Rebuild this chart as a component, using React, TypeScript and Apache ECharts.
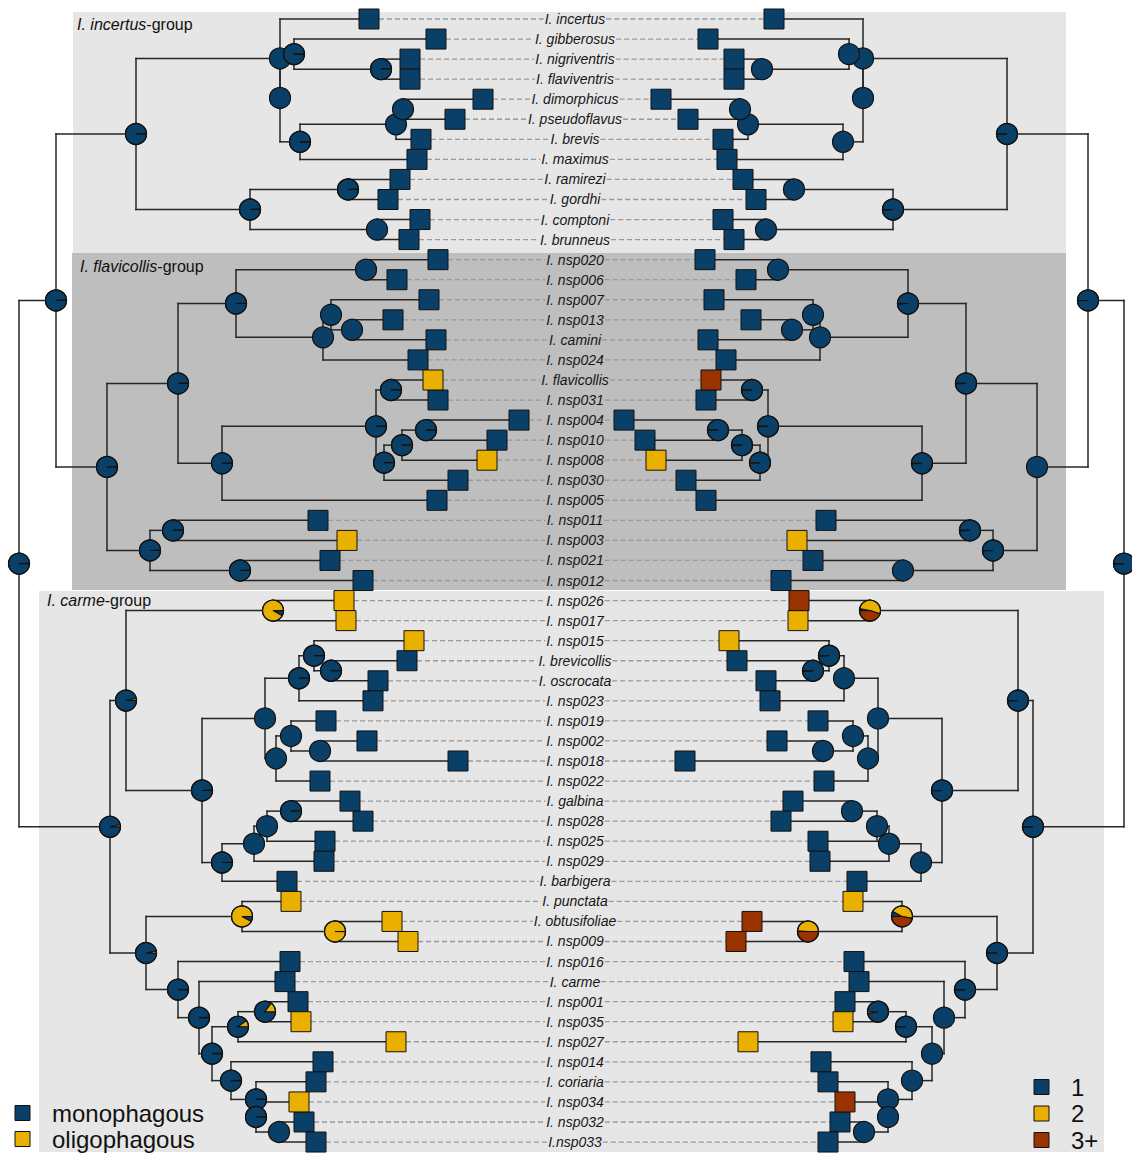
import React, { useEffect, useRef } from "react";
import * as echarts from "echarts";

// ---------- DATA ----------
const TAXA = [
  "I. incertus", "I. gibberosus", "I. nigriventris", "I. flaviventris", "I. dimorphicus", "I. pseudoflavus",
  "I. brevis", "I. maximus", "I. ramirezi", "I. gordhi", "I. comptoni", "I. brunneus",
  "I. nsp020", "I. nsp006", "I. nsp007", "I. nsp013", "I. camini", "I. nsp024", "I. flavicollis", "I. nsp031",
  "I. nsp004", "I. nsp010", "I. nsp008", "I. nsp030", "I. nsp005", "I. nsp011", "I. nsp003", "I. nsp021", "I. nsp012",
  "I. nsp026", "I. nsp017", "I. nsp015", "I. brevicollis", "I. oscrocata", "I. nsp023", "I. nsp019", "I. nsp002",
  "I. nsp018", "I. nsp022", "I. galbina", "I. nsp028", "I. nsp025", "I. nsp029", "I. barbigera", "I. punctata",
  "I. obtusifoliae", "I. nsp009", "I. nsp016", "I. carme", "I. nsp001", "I. nsp035", "I. nsp027", "I. nsp014",
  "I. coriaria", "I. nsp034", "I. nsp032", "I.nsp033",
];

// tip depth on the shared branch-length axis (left tree / right tree)
const LEFT_TIP_X = [
  369, 436, 410, 410, 483, 455, 421, 417, 400, 388, 420, 409, 438, 397, 429, 393, 436, 418, 433, 438,
  519, 497, 487, 458, 437, 318, 347, 330, 363, 344, 346, 414, 407, 378, 373, 326, 367, 458, 320, 350,
  363, 325, 324, 287, 291, 392, 408, 290, 285, 298, 301, 396, 323, 316, 299, 304, 316,
];
const RIGHT_TIP_X = [
  774, 708, 734, 734, 661, 688, 723, 727, 743, 756, 723, 734, 705, 746, 714, 751, 708, 726, 711, 706,
  624, 645, 656, 686, 706, 826, 797, 813, 781, 799, 798, 729, 737, 766, 770, 818, 777, 685, 824, 793,
  781, 818, 820, 857, 853, 752, 736, 854, 859, 845, 843, 748, 821, 828, 845, 840, 828,
];

// diet breadth (1 = monophagous, 2 = oligophagous)
const DIET = [
  1, 1, 1, 1, 1, 1, 1, 1, 1, 1, 1, 1, 1, 1, 1, 1, 1, 1, 2, 1,
  1, 1, 2, 1, 1, 1, 2, 1, 1, 2, 2, 2, 1, 1, 1, 1, 1, 1, 1, 1,
  1, 1, 1, 1, 2, 2, 2, 1, 1, 1, 2, 2, 1, 1, 2, 1, 1,
];
// number of hosts (1, 2, 3 = 3+)
const HOSTS = [
  1, 1, 1, 1, 1, 1, 1, 1, 1, 1, 1, 1, 1, 1, 1, 1, 1, 1, 3, 1,
  1, 1, 2, 1, 1, 1, 2, 1, 1, 3, 2, 2, 1, 1, 1, 1, 1, 1, 1, 1,
  1, 1, 1, 1, 2, 3, 3, 1, 1, 1, 2, 2, 1, 1, 3, 1, 1,
];

type Kid = number | string;
type NodeRow = [string, number, Kid, Kid, number[]];
const PLAIN = [1, 0, 0];
const TICK = [0.995, 0.005, 0];

// internal nodes: id, depth, child A, child B, ancestral state probabilities [1, 2, 3+]
const LEFT_NODES: NodeRow[] = [
  ["L0", 19, "B1", "CG", TICK],
  ["B1", 56, "A", "C1", TICK],
  ["A", 136, "P", "V", TICK],
  ["P", 280, 0, "Q", PLAIN],
  ["Q", 280, "N2", "R", PLAIN],
  ["N2", 294, 1, "U", TICK],
  ["U", 381, 2, 3, TICK],
  ["R", 300, "S", 7, TICK],
  ["S", 396, "T", 6, PLAIN],
  ["T", 403, 4, 5, PLAIN],
  ["V", 250, "W", "X", TICK],
  ["W", 348, 8, 9, TICK],
  ["X", 377, 10, 11, PLAIN],
  ["C1", 107, "E1", "F1", TICK],
  ["E1", 178, "G1", "H1", TICK],
  ["G1", 236, "J1", "I1", TICK],
  ["J1", 366, 12, 13, PLAIN],
  ["I1", 323, "K1", 17, PLAIN],
  ["K1", 331, 14, "L1", PLAIN],
  ["L1", 352, 15, 16, PLAIN],
  ["H1", 222, "M1", 24, TICK],
  ["M1", 376, "N1", "O1", TICK],
  ["N1", 391, 18, 19, TICK],
  ["O1", 384, "P1", 23, TICK],
  ["P1", 402, "Q1", 22, TICK],
  ["Q1", 426, 20, 21, TICK],
  ["F1", 150, "R1", "S1", TICK],
  ["R1", 173, 25, 26, TICK],
  ["S1", 240, 27, 28, TICK],
  ["CG", 110, "T1", "U1", [0.97, 0.03, 0]],
  ["T1", 126, "V1", "W1", [0.97, 0.03, 0]],
  ["V1", 273, 29, 30, [0.08, 0.92, 0]],
  ["W1", 202, "X1", "Y1", TICK],
  ["X1", 265, "Z1", "AA1", PLAIN],
  ["Z1", 299, "AB1", 34, TICK],
  ["AB1", 314, 31, "AC1", TICK],
  ["AC1", 331, 32, 33, TICK],
  ["AA1", 276, "AD1", 38, PLAIN],
  ["AD1", 291, 35, "AE1", PLAIN],
  ["AE1", 320, 36, 37, PLAIN],
  ["Y1", 222, "AF1", 43, TICK],
  ["AF1", 254, "AI1", 42, PLAIN],
  ["AI1", 267, "AJ1", 41, PLAIN],
  ["AJ1", 291, 39, 40, TICK],
  ["U1", 146, "AG1", "AK1", [0.97, 0.03, 0]],
  ["AG1", 242, 44, "AH1", [0.08, 0.92, 0]],
  ["AH1", 335, 45, 46, [0.005, 0.995, 0]],
  ["AK1", 178, 47, "AL1", TICK],
  ["AL1", 199, 48, "AM1", TICK],
  ["AM1", 212, "AN1", "AO1", TICK],
  ["AN1", 238, "AP1", 51, [0.9, 0.1, 0]],
  ["AP1", 265, 49, 50, [0.85, 0.15, 0]],
  ["AO1", 231, 52, "AQ1", TICK],
  ["AQ1", 256, 53, "AR1", TICK],
  ["AR1", 256, 54, "AS1", TICK],
  ["AS1", 279, 55, 56, PLAIN],
];

const RIGHT_NODES: NodeRow[] = [
  ["R0", 1124, "B1r", "CGr", TICK],
  ["B1r", 1088, "Ar", "C1r", TICK],
  ["Ar", 1007, "Pr", "Vr", TICK],
  ["Pr", 863, 0, "Qr", PLAIN],
  ["Qr", 863, "N2r", "Rr", PLAIN],
  ["N2r", 849, 1, "Ur", PLAIN],
  ["Ur", 762, 2, 3, PLAIN],
  ["Rr", 843, "Sr", 7, PLAIN],
  ["Sr", 748, "Tr", 6, PLAIN],
  ["Tr", 740, 4, 5, PLAIN],
  ["Vr", 893, "Wr", "Xr", TICK],
  ["Wr", 794, 8, 9, PLAIN],
  ["Xr", 766, 10, 11, PLAIN],
  ["C1r", 1037, "E1r", "F1r", PLAIN],
  ["E1r", 966, "G1r", "H1r", TICK],
  ["G1r", 908, "J1r", "I1r", TICK],
  ["J1r", 778, 12, 13, PLAIN],
  ["I1r", 820, "K1r", 17, PLAIN],
  ["K1r", 813, 14, "L1r", PLAIN],
  ["L1r", 792, 15, 16, PLAIN],
  ["H1r", 922, "M1r", 24, TICK],
  ["M1r", 768, "N1r", "O1r", TICK],
  ["N1r", 752, 18, 19, TICK],
  ["O1r", 760, "P1r", 23, TICK],
  ["P1r", 742, "Q1r", 22, TICK],
  ["Q1r", 718, 20, 21, TICK],
  ["F1r", 993, "R1r", "S1r", TICK],
  ["R1r", 970, 25, 26, TICK],
  ["S1r", 903, 27, 28, PLAIN],
  ["CGr", 1033, "T1r", "U1r", TICK],
  ["T1r", 1018, "V1r", "W1r", TICK],
  ["V1r", 870, 29, 30, [0.03, 0.52, 0.45]],
  ["W1r", 942, "X1r", "Y1r", TICK],
  ["X1r", 878, "Z1r", "AA1r", PLAIN],
  ["Z1r", 844, "AB1r", 34, PLAIN],
  ["AB1r", 829, 31, "AC1r", TICK],
  ["AC1r", 813, 32, 33, TICK],
  ["AA1r", 868, "AD1r", 38, PLAIN],
  ["AD1r", 853, 35, "AE1r", PLAIN],
  ["AE1r", 823, 36, 37, PLAIN],
  ["Y1r", 921, "AF1r", 43, PLAIN],
  ["AF1r", 889, "AI1r", 42, PLAIN],
  ["AI1r", 877, "AJ1r", 41, PLAIN],
  ["AJ1r", 852, 39, 40, PLAIN],
  ["U1r", 997, "AG1r", "AK1r", TICK],
  ["AG1r", 902, 44, "AH1r", [0.08, 0.45, 0.47]],
  ["AH1r", 808, 45, 46, [0.01, 0.49, 0.5]],
  ["AK1r", 965, 47, "AL1r", TICK],
  ["AL1r", 944, 48, "AM1r", PLAIN],
  ["AM1r", 932, "AN1r", "AO1r", PLAIN],
  ["AN1r", 906, "AP1r", 51, TICK],
  ["AP1r", 878, 49, 50, [0.97, 0.03, 0]],
  ["AO1r", 912, 52, "AQ1r", PLAIN],
  ["AQ1r", 888, 53, "AR1r", PLAIN],
  ["AR1r", 888, 54, "AS1r", PLAIN],
  ["AS1r", 864, 55, 56, PLAIN],
];

const GROUP_ITALIC = ["I. incertus", "I. flavicollis", "I. carme"];
const GROUP_ROWS = [[-0.35, 11.67], [11.67, 28.47], [28.52, 56.5]];

const DIET_NAMES = ["monophagous", "oligophagous"];
const HOST_NAMES = ["1", "2", "3+"];

// ---------- STYLE / LAYOUT ----------
const BLUE = "#0A4068";
const YELLOW = "#EAB000";
const BROWN = "#9A3300";
const STATE_COLORS = [BLUE, YELLOW, BROWN];
const GROUP_COLORS = ["#e6e6e6", "#bebebe", "#e6e6e6"];
const GROUP_X = [[73, 1066], [72, 1066], [39, 1104]];
const GROUP_LABEL_PAD = [[4, 13], [8, 13], [8, 10]];
const FONT = '"Liberation Sans", Arial, Helvetica, sans-serif';
const LABEL_X = 575;
const TIP = 20;
const PIE_R = 10.5;
const LINE = "#262626";
const W = 1132;
const H = 1153;

let measureCtx: CanvasRenderingContext2D | null = null;
function textWidth(s: string, font: string): number {
  if (!measureCtx) measureCtx = document.createElement("canvas").getContext("2d");
  if (!measureCtx) return s.length * 7;
  measureCtx.font = font;
  return measureCtx.measureText(s).width;
}

function layoutTree(nodes: NodeRow[], tipX: number[]) {
  const map: Record<string, NodeRow> = {};
  nodes.forEach((n) => (map[n[0]] = n));
  const ys: Record<string, number> = {};
  const getY = (k: Kid): number => {
    if (typeof k === "number") return k;
    if (ys[k] !== undefined) return ys[k];
    const n = map[k];
    const y = (getY(n[2]) + getY(n[3])) / 2;
    ys[k] = y;
    return y;
  };
  nodes.forEach((n) => getY(n[0]));
  const kx = (k: Kid) => (typeof k === "number" ? tipX[k] : map[k][1]);
  return { map, ys, getY, kx };
}

function pieElements(cx: number, cy: number, r: number, pie: number[], start: number) {
  const total = pie.reduce((a, b) => a + b, 0);
  const nz = pie.filter((v) => v > 0).length;
  if (nz <= 1) {
    const idx = pie.findIndex((v) => v > 0);
    return [
      {
        type: "circle",
        shape: { cx, cy, r },
        style: { fill: STATE_COLORS[idx], stroke: "#111", lineWidth: 1.2 },
      },
    ];
  }
  const els: any[] = [];
  let a = start;
  pie.forEach((v, i) => {
    if (v <= 0) return;
    const b = a + (v / total) * Math.PI * 2;
    els.push({
      type: "sector",
      shape: { cx, cy, r0: 0, r, startAngle: a, endAngle: b, clockwise: true },
      style: { fill: STATE_COLORS[i], stroke: "#111", lineWidth: 1.1 },
    });
    a = b;
  });
  els.push({
    type: "circle",
    shape: { cx, cy, r },
    style: { fill: "none", stroke: "#111", lineWidth: 1.2 },
  });
  return els;
}

export default function App() {
  const ref = useRef<HTMLDivElement>(null);

  useEffect(() => {
    if (!ref.current) return;
    const chart = echarts.init(ref.current, undefined, { renderer: "svg" });

    const left = layoutTree(LEFT_NODES, LEFT_TIP_X);
    const right = layoutTree(RIGHT_NODES, RIGHT_TIP_X);

    const branchSeries = (nodes: NodeRow[], t: ReturnType<typeof layoutTree>, name: string) => ({
      type: "custom",
      name,
      z: 2,
      silent: true,
      clip: false,
      data: nodes.map((n, i) => [n[1], t.ys[n[0]], i]),
      renderItem: (params: any, api: any) => {
        const n = nodes[params.dataIndex];
        const nx = n[1];
        const kids = [n[2], n[3]].map((k) => ({ x: t.kx(k), y: t.getY(k) }));
        const y0 = Math.min(kids[0].y, kids[1].y);
        const y1 = Math.max(kids[0].y, kids[1].y);
        const a = api.coord([nx, y0]);
        const b = api.coord([nx, y1]);
        const style = { stroke: LINE, lineWidth: 1.5, lineCap: "square" };
        const children: any[] = [
          { type: "line", shape: { x1: a[0], y1: a[1], x2: b[0], y2: b[1] }, style },
        ];
        kids.forEach((k) => {
          const p = api.coord([nx, k.y]);
          const q = api.coord([k.x, k.y]);
          children.push({ type: "line", shape: { x1: p[0], y1: p[1], x2: q[0], y2: q[1] }, style });
        });
        return { type: "group", children };
      },
    });

    const pieSeries = (nodes: NodeRow[], t: ReturnType<typeof layoutTree>, start: number, name: string) => ({
      type: "custom",
      name,
      z: 4,
      silent: true,
      clip: false,
      data: nodes.map((n, i) => [n[1], t.ys[n[0]], i]),
      renderItem: (params: any, api: any) => {
        const p = api.coord([api.value(0), api.value(1)]);
        const n = nodes[params.dataIndex];
        return { type: "group", children: pieElements(p[0], p[1], PIE_R, n[4], start) };
      },
    });

    const tipSeries = (name: string, tipX: number[], states: number[], state: number) => ({
      type: "custom",
      name,
      z: 5,
      silent: true,
      clip: false,
      itemStyle: { color: STATE_COLORS[state - 1], borderColor: "#111", borderWidth: 1 },
      data: states.map((s, r) => (s === state ? [tipX[r], r] : null)).filter((d) => d !== null),
      renderItem: (params: any, api: any) => {
        const p = api.coord([api.value(0), api.value(1)]);
        return {
          type: "rect",
          shape: { x: p[0] - TIP / 2, y: p[1] - TIP / 2, width: TIP, height: TIP },
          style: { fill: STATE_COLORS[state - 1], stroke: "#111", lineWidth: 1 },
        };
      },
    });

    const labelFont = `italic 14px ${FONT}`;
    const labelSeries = {
      type: "custom",
      name: "taxa",
      z: 3,
      silent: true,
      clip: false,
      data: TAXA.map((_, r) => [LABEL_X, r]),
      renderItem: (params: any, api: any) => {
        const r = params.dataIndex;
        const c = api.coord([LABEL_X, r]);
        const w = textWidth(TAXA[r], labelFont);
        const lx = api.coord([LEFT_TIP_X[r], r])[0] + TIP / 2;
        const rx = api.coord([RIGHT_TIP_X[r], r])[0] - TIP / 2;
        const dash = { stroke: "#9a9a9a", lineWidth: 1.3, lineDash: [5, 3] };
        return {
          type: "group",
          children: [
            { type: "line", shape: { x1: lx, y1: c[1], x2: c[0] - w / 2 - 1, y2: c[1] }, style: dash },
            { type: "line", shape: { x1: c[0] + w / 2 + 1, y1: c[1], x2: rx, y2: c[1] }, style: dash },
            {
              type: "text",
              x: c[0],
              y: c[1],
              style: {
                text: TAXA[r],
                fill: "#161616",
                fontSize: 14,
                fontStyle: "italic",
                fontFamily: FONT,
                align: "center",
                verticalAlign: "middle",
              },
            },
          ],
        };
      },
    };

    const groupFontI = `italic 16px ${FONT}`;
    const bgSeries = {
      type: "custom",
      name: "groups",
      z: 0,
      silent: true,
      clip: false,
      data: GROUP_ROWS.map((g, i) => [GROUP_X[i][0], g[0], i]),
      renderItem: (params: any, api: any) => {
        const i = params.dataIndex;
        const p1 = api.coord([GROUP_X[i][0], GROUP_ROWS[i][0]]);
        const p2 = api.coord([GROUP_X[i][1], GROUP_ROWS[i][1]]);
        const tx = p1[0] + GROUP_LABEL_PAD[i][0];
        const ty = p1[1] + GROUP_LABEL_PAD[i][1];
        const wi = textWidth(GROUP_ITALIC[i], groupFontI);
        return {
          type: "group",
          children: [
            {
              type: "rect",
              shape: { x: p1[0], y: p1[1], width: p2[0] - p1[0], height: p2[1] - p1[1] },
              style: { fill: GROUP_COLORS[i] },
            },
            {
              type: "text",
              x: tx,
              y: ty,
              style: {
                text: GROUP_ITALIC[i], fill: "#111", fontSize: 16, fontStyle: "italic",
                fontFamily: FONT, align: "left", verticalAlign: "middle",
              },
            },
            {
              type: "text",
              x: tx + wi,
              y: ty,
              style: {
                text: "-group", fill: "#111", fontSize: 16, fontFamily: FONT,
                align: "left", verticalAlign: "middle",
              },
            },
          ],
        };
      },
    };

    const legendItems: any[] = [];
    DIET_NAMES.forEach((nm, i) => {
      const cy = 1113 + i * 26;
      legendItems.push({
        type: "rect", shape: { x: 15, y: cy - 7.5, width: 15, height: 15 },
        style: { fill: STATE_COLORS[i], stroke: "#111", lineWidth: 1 }, z: 10,
      });
      legendItems.push({
        type: "text", x: 52, y: cy, z: 10,
        style: { text: nm, fill: "#111", fontSize: 24, fontFamily: FONT, verticalAlign: "middle", align: "left" },
      });
    });
    HOST_NAMES.forEach((nm, i) => {
      const cy = 1087 + i * 26.5;
      legendItems.push({
        type: "rect", shape: { x: 1034, y: cy - 7.5, width: 15, height: 15 },
        style: { fill: STATE_COLORS[i], stroke: "#111", lineWidth: 1 }, z: 10,
      });
      legendItems.push({
        type: "text", x: 1071, y: cy, z: 10,
        style: { text: nm, fill: "#111", fontSize: 24, fontFamily: FONT, verticalAlign: "middle", align: "left" },
      });
    });

    chart.setOption({
      animation: false,
      backgroundColor: "#ffffff",
      grid: { left: 0, right: 0, top: 0, bottom: 0, containLabel: false },
      xAxis: { type: "value", min: 0, max: W, show: false },
      yAxis: { type: "value", inverse: true, min: -0.9474, max: 56.5467, show: false },
      graphic: legendItems,
      series: [
        bgSeries,
        branchSeries(LEFT_NODES, left, "left tree"),
        branchSeries(RIGHT_NODES, right, "right tree"),
        labelSeries,
        pieSeries(LEFT_NODES, left, 0, "left states"),
        pieSeries(RIGHT_NODES, right, Math.PI, "right states"),
        tipSeries(DIET_NAMES[0], LEFT_TIP_X, DIET, 1),
        tipSeries(DIET_NAMES[1], LEFT_TIP_X, DIET, 2),
        tipSeries(HOST_NAMES[0], RIGHT_TIP_X, HOSTS, 1),
        tipSeries(HOST_NAMES[1], RIGHT_TIP_X, HOSTS, 2),
        tipSeries(HOST_NAMES[2], RIGHT_TIP_X, HOSTS, 3),
      ],
    } as any);

    return () => chart.dispose();
  }, []);

  return (
    <div
      ref={ref}
      style={{ position: "absolute", left: 0, top: 0, width: W, height: H, background: "#fff" }}
    />
  );
}
